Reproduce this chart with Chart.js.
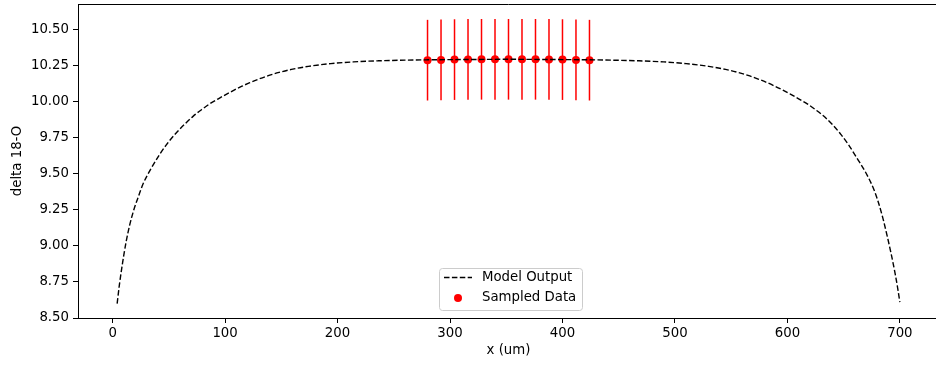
<!DOCTYPE html>
<html>
<head>
<meta charset="utf-8">
<script src="https://cdn.jsdelivr.net/npm/chart.js@4/dist/chart.umd.min.js"></script>
<style>
  html, body { margin: 0; padding: 0; background: #fff; overflow: hidden; }
  #wrap { width: 936px; height: 365px; overflow: hidden; }
  canvas { display: block; width: 943px; height: 365px; }
</style>
</head>
<body>
<div id="wrap"><canvas id="chart" width="943" height="365"></canvas></div>
<script>
// Modelled delta 18-O diffusion profile across the grain (x in um)
const modelX = [4, 6, 8, 10, 12, 15, 19, 23, 27, 34, 42, 49, 56.5, 64, 71.5, 79, 86, 94, 101, 108, 115, 122, 130, 139, 148, 159, 174, 194, 214, 236, 260, 280, 304, 352,
                400, 424, 444, 468, 490, 510, 530, 545, 556, 565, 574, 582, 589, 596, 603, 610, 618, 625, 632.5, 640, 647.5, 655, 662, 670, 677, 681, 685, 689, 692, 694, 696, 698, 700];
const modelY = [8.60, 8.73, 8.84, 8.94, 9.03, 9.14, 9.255, 9.345, 9.43, 9.535, 9.638, 9.715, 9.785, 9.845, 9.900, 9.946, 9.985, 10.022, 10.053, 10.082, 10.109, 10.134, 10.159, 10.184, 10.205, 10.226, 10.247, 10.266, 10.278, 10.2855, 10.290, 10.2925, 10.294, 10.296,
                10.294, 10.2925, 10.290, 10.2855, 10.278, 10.266, 10.247, 10.226, 10.205, 10.184, 10.159, 10.134, 10.109, 10.082, 10.053, 10.022, 9.985, 9.946, 9.900, 9.843, 9.775, 9.695, 9.608, 9.505, 9.39, 9.30, 9.19, 9.06, 8.955, 8.88, 8.80, 8.71, 8.61];

// Sampled points with their uncertainties
const sampleX = [280, 292, 304, 316, 328, 340, 352, 364, 376, 388, 400, 412, 424];
const sampleY = [10.290, 10.292, 10.294, 10.295, 10.296, 10.296, 10.296, 10.296, 10.296, 10.295, 10.294, 10.292, 10.290];
const sampleErr = [0.28, 0.28, 0.28, 0.28, 0.28, 0.28, 0.28, 0.28, 0.28, 0.28, 0.28, 0.28, 0.28];

// Axis ticks
const xTicks = [0, 100, 200, 300, 400, 500, 600, 700];
const yTicks = [8.50, 8.75, 9.00, 9.25, 9.50, 9.75, 10.00, 10.25, 10.50];

const FONT = "'DejaVu Sans', sans-serif";
const FSIZE = 13.3;
const TEXT = '#000';

const modelPts = modelX.map((x, i) => ({ x, y: modelY[i] }));
const samplePts = sampleX.map((x, i) => ({ x, y: sampleY[i] }));

// Vertical error bars under the sampled markers
const errorBars = {
  id: 'errorBars',
  beforeDatasetDraw(chart, args) {
    if (args.index !== 1) return;
    const { ctx, scales: { x, y } } = chart;
    ctx.save();
    ctx.strokeStyle = '#ff0000';
    ctx.lineWidth = 1.5;
    sampleX.forEach((sx, i) => {
      const px = x.getPixelForValue(sx);
      ctx.beginPath();
      ctx.moveTo(px, y.getPixelForValue(sampleY[i] - sampleErr[i]));
      ctx.lineTo(px, y.getPixelForValue(sampleY[i] + sampleErr[i]));
      ctx.stroke();
    });
    ctx.restore();
  }
};

// Top frame line and the in-plot legend box
const frameAndLegend = {
  id: 'frameAndLegend',
  afterDraw(chart) {
    const { ctx, chartArea: a } = chart;
    ctx.save();
    ctx.strokeStyle = '#000';
    ctx.lineWidth = 1;
    ctx.beginPath();
    ctx.moveTo(a.left, a.top + 0.5);
    ctx.lineTo(a.right, a.top + 0.5);
    ctx.stroke();

    const bx = 439, by = 268, bw = 143, bh = 42;
    ctx.fillStyle = 'rgba(255,255,255,0.8)';
    ctx.strokeStyle = '#cccccc';
    ctx.lineWidth = 1;
    ctx.beginPath();
    ctx.roundRect(bx + 0.5, by + 0.5, bw, bh, 3);
    ctx.fill();
    ctx.stroke();

    // dashed line sample
    ctx.strokeStyle = '#000';
    ctx.lineWidth = 1.5;
    ctx.setLineDash([5.5, 2.4]);
    ctx.beginPath();
    ctx.moveTo(bx + 5, by + 9.5);
    ctx.lineTo(bx + 33, by + 9.5);
    ctx.stroke();
    ctx.setLineDash([]);

    // marker sample
    ctx.fillStyle = '#ff0000';
    ctx.beginPath();
    ctx.arc(bx + 19, by + 30, 4, 0, Math.PI * 2);
    ctx.fill();

    ctx.fillStyle = TEXT;
    ctx.font = FSIZE + 'px ' + FONT;
    ctx.textBaseline = 'middle';
    ctx.textAlign = 'left';
    ctx.fillText('Model Output', bx + 43, by + 10);
    ctx.fillText('Sampled Data', bx + 43, by + 30);
    ctx.restore();
  }
};

new Chart(document.getElementById('chart'), {
  type: 'line',
  data: {
    datasets: [
      {
        label: 'Model Output',
        data: modelPts,
        borderColor: '#000',
        borderWidth: 1.4,
        borderDash: [5.5, 2.4],
        pointRadius: 0,
        cubicInterpolationMode: 'monotone',
        fill: false
      },
      {
        label: 'Sampled Data',
        data: samplePts,
        showLine: false,
        pointRadius: 4,
        pointHoverRadius: 4,
        pointBackgroundColor: '#ff0000',
        pointBorderColor: '#ff0000',
        pointBorderWidth: 0
      }
    ]
  },
  options: {
    responsive: false,
    animation: false,
    devicePixelRatio: 1,
    layout: { padding: { top: 4, left: 0, right: 0, bottom: 0 } },
    plugins: {
      legend: { display: false },
      tooltip: { enabled: false }
    },
    scales: {
      x: {
        type: 'linear',
        min: -30.8,
        max: 734.8,
        afterBuildTicks(scale) { scale.ticks = xTicks.map(v => ({ value: v })); },
        afterFit(scale) { scale.height = 47; scale.paddingLeft = 0; scale.paddingRight = 0; },
        grid: { drawOnChartArea: false, drawTicks: true, tickLength: 5, tickColor: '#000', tickWidth: 1 },
        border: { display: true, color: '#000', width: 1 },
        ticks: { color: TEXT, font: { family: FONT, size: FSIZE }, padding: 3, maxRotation: 0,
                 callback: v => String(v) },
        title: { display: true, text: 'x (um)', color: TEXT, font: { family: FONT, size: FSIZE }, padding: { top: 0, bottom: 6 } }
      },
      y: {
        type: 'linear',
        min: 8.5,
        max: 10.68,
        afterBuildTicks(scale) { scale.ticks = yTicks.map(v => ({ value: v })); },
        afterFit(scale) { scale.width = 78; scale.paddingTop = 0; scale.paddingBottom = 0; },
        grid: { drawOnChartArea: false, drawTicks: true, tickLength: 5, tickColor: '#000', tickWidth: 1 },
        border: { display: true, color: '#000', width: 1 },
        ticks: { color: TEXT, font: { family: FONT, size: FSIZE }, padding: 4,
                 callback: v => Number(v).toFixed(2) },
        title: { display: true, text: 'delta 18-O', color: TEXT, font: { family: FONT, size: FSIZE }, padding: { top: 10, bottom: 0 } }
      }
    }
  },
  plugins: [errorBars, frameAndLegend]
});
</script>
</body>
</html>
